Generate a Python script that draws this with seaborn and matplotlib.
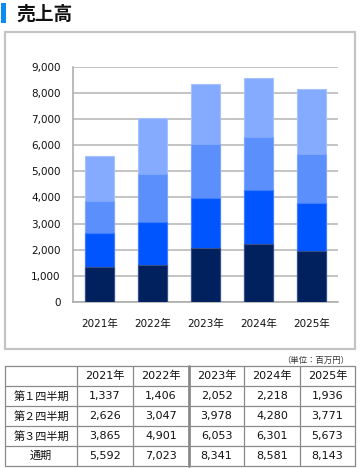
import matplotlib
matplotlib.use("Agg")
import matplotlib.pyplot as plt
import seaborn as sns
import pandas as pd
from matplotlib.patches import Rectangle
from matplotlib.lines import Line2D

years = ["2021年", "2022年", "2023年", "2024年", "2025年"]
row_labels = ["第１四半期", "第２四半期", "第３四半期", "通期"]
q1 = [1337, 1406, 2052, 2218, 1936]
q2 = [2626, 3047, 3978, 4280, 3771]
q3 = [3865, 4901, 6053, 6301, 5673]
annual = [5592, 7023, 8341, 8581, 8143]
series = [q1, q2, q3, annual]
colors = ["#00205e", "#0055ff", "#5a8ffc", "#84abff"]
edges = ["#3a4f86", "#3f7dff", "#7ea7fd", "#a5c2ff"]

sns.set_style("white")
plt.rcParams['font.family'] = ['DejaVu Sans', 'Noto Sans CJK JP']

W, H = 363, 468
fig = plt.figure(figsize=(W / 100, H / 100), dpi=100)

# background overlay axes in pixel coords
bg = fig.add_axes([0, 0, 1, 1])
bg.set_xlim(0, W)
bg.set_ylim(H, 0)
bg.axis("off")

# title
bg.add_patch(Rectangle((1, 3), 5, 20, color="#0a8cf0", lw=0))
bg.text(16, 14, "売上高", fontsize=13.5, fontweight="bold", va="center", ha="left",
        color="#111111", family=['Noto Sans CJK JP', 'DejaVu Sans'])

# chart frame
bg.add_patch(Rectangle((5, 32), 350, 317, fill=False, edgecolor="#c4c4c4", lw=1.6))

# bar chart
ax = fig.add_axes([73 / W, (H - 302) / H, 265 / W, 235.3 / H])
df = pd.DataFrame({"year": years, "Q1": q1, "Q2": q2, "Q3": q3, "FY": annual})
for col, c, e in zip(["FY", "Q3", "Q2", "Q1"], colors[::-1], edges[::-1]):
    sns.barplot(data=df, x="year", y=col, color=c, width=0.53, ax=ax,
                edgecolor=e, linewidth=0.8, saturation=1, zorder=3)
ax.set_ylim(0, 9000)
ax.set_xlim(-0.5, 4.5)
ax.set_xlabel("")
ax.set_ylabel("")
ax.set_yticks(range(0, 9001, 1000))
ax.set_yticklabels([f"{v:,}" for v in range(0, 9001, 1000)], fontsize=7.5)
ax.grid(axis="y", color="#b4b4b4", lw=1.1, zorder=0)
ax.set_axisbelow(True)
for s in ["top", "right"]:
    ax.spines[s].set_visible(False)
for s in ["left", "bottom"]:
    ax.spines[s].set_color("#a8a8a8")
    ax.spines[s].set_linewidth(1.1)
ax.tick_params(axis="y", length=4, width=1, color="#a8a8a8", pad=5, labelcolor="#111111")
ax.tick_params(axis="x", which="major", length=0, pad=12, labelsize=7.5, labelcolor="#111111")
ax.set_xticks([i - 0.5 for i in range(6)], minor=True)
ax.tick_params(axis="x", which="minor", length=4, width=1, color="#a8a8a8")

# unit label
bg.text(349, 360, "（単位：百万円）", fontsize=6.0, ha="right", va="center",
        color="#333333", family=['Noto Sans CJK JP', 'DejaVu Sans'])

# table
col_x = [5, 77, 133, 189, 244, 300, 355]
row_y = [366, 386, 406, 426, 446, 466]
line_c = "#8a8a8a"
for yv in row_y:
    bg.add_line(Line2D([col_x[0], col_x[-1]], [yv, yv], color=line_c, lw=0.9))
for i, xv in enumerate(col_x):
    lw = 2.0 if i == 3 else 0.9
    bg.add_line(Line2D([xv, xv], [row_y[0], row_y[-1]], color=line_c, lw=lw))

fp = dict(fontsize=8, ha="center", va="center", color="#111111",
          family=['DejaVu Sans', 'Noto Sans CJK JP'])
for j, yr in enumerate(years):
    bg.text((col_x[j + 1] + col_x[j + 2]) / 2, (row_y[0] + row_y[1]) / 2, yr, **fp)
for i, (lab, vals) in enumerate(zip(row_labels, series)):
    yc = (row_y[i + 1] + row_y[i + 2]) / 2
    bg.text((col_x[0] + col_x[1]) / 2, yc, lab, **fp)
    for j, v in enumerate(vals):
        bg.text((col_x[j + 1] + col_x[j + 2]) / 2, yc, f"{v:,}", **fp)

fig.savefig("out.png", dpi=100)
